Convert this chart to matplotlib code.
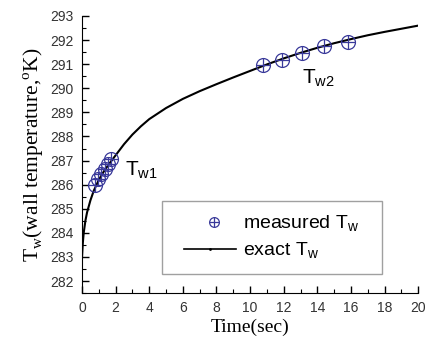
import matplotlib
matplotlib.use("Agg")
import matplotlib.pyplot as plt
from matplotlib.lines import Line2D
from matplotlib.legend_handler import HandlerTuple, HandlerLine2D
from matplotlib.ticker import MultipleLocator

# exact curve
t_exact = [0.0, 0.05, 0.1, 0.2, 0.3, 0.5, 0.7, 1.0, 1.3, 1.6, 2.0, 2.5, 3.0, 3.5,
           4.0, 5.0, 6.0, 7.0, 8.0, 9.0, 10.0, 11.0, 12.0, 13.0, 14.0, 15.0,
           16.0, 17.0, 18.0, 19.0, 20.0]
T_exact = [283.0, 283.6, 284.0, 284.5, 284.85, 285.35, 285.75, 286.2, 286.55, 286.85,
           287.22, 287.68, 288.08, 288.42, 288.72, 289.18, 289.56, 289.88, 290.17,
           290.45, 290.72, 290.99, 291.24, 291.47, 291.68, 291.87, 292.04, 292.2,
           292.34, 292.47, 292.6]

# measured points
t_w1 = [0.75, 0.95, 1.15, 1.35, 1.55, 1.75]
T_w1 = [286.0, 286.25, 286.45, 286.65, 286.85, 287.05]
t_w2 = [10.75, 11.88, 13.07, 14.42, 15.81]
T_w2 = [290.97, 291.17, 291.45, 291.77, 291.93]

xticks = [0, 2, 4, 6, 8, 10, 12, 14, 16, 18, 20]
yticks = [282, 283, 284, 285, 286, 287, 288, 289, 290, 291, 292, 293]

mcol = "#3a3a9a"
sans = "Liberation Sans"
serif = "Liberation Serif"

OFF = 6.5  # left offset of legend handles, points


class ShiftTuple(HandlerTuple):
    def create_artists(self, legend, orig_handle, xdescent, ydescent, width,
                       height, fontsize, trans):
        return super().create_artists(legend, orig_handle, xdescent - OFF,
                                      ydescent, width - OFF, height, fontsize,
                                      trans)


class ShiftLine(HandlerLine2D):
    def create_artists(self, legend, orig_handle, xdescent, ydescent, width,
                       height, fontsize, trans):
        return super().create_artists(legend, orig_handle, xdescent - OFF,
                                      ydescent, width - OFF, height, fontsize,
                                      trans)


fig = plt.figure(figsize=(4.25, 3.4), dpi=100)
ax = fig.add_axes([0.193, 0.138, 0.791, 0.815])

ax.plot(t_exact, T_exact, color="black", lw=1.5, zorder=2)

t_meas = t_w1 + t_w2
T_meas = T_w1 + T_w2
ax.plot(t_meas, T_meas, ls="none", marker="o", ms=10, mfc="none",
        mec=mcol, mew=0.9, zorder=3)
ax.plot(t_meas, T_meas, ls="none", marker="+", ms=10, mec=mcol,
        mew=0.9, zorder=3)

ax.set_xlim(0, 20)
ax.set_ylim(281.5, 293)
ax.set_xticks(xticks)
ax.set_yticks(yticks)
ax.xaxis.set_minor_locator(MultipleLocator(1))
ax.yaxis.set_minor_locator(MultipleLocator(0.5))
ax.tick_params(which="both", direction="in", top=False, right=False)
ax.tick_params(which="major", length=5, width=1, labelsize=10, pad=6)
ax.tick_params(which="minor", length=3, width=0.8)
for lab in ax.get_xticklabels() + ax.get_yticklabels():
    lab.set_fontfamily(sans)
    lab.set_color("#333333")
ax.spines["top"].set_visible(False)
ax.spines["right"].set_visible(False)

ax.set_xlabel("Time(sec)", fontfamily=serif, fontsize=14, labelpad=2)
ax.set_ylabel(r"T$_\mathregular{w}$(wall temperature,$^\mathregular{o}$K)",
              fontfamily=serif, fontsize=15.5, labelpad=3)

ax.text(2.56, 286.4, r"T$_\mathregular{w1}$", fontfamily=sans, fontsize=15,
        va="baseline", ha="left")
ax.text(13.1, 290.22, r"T$_\mathregular{w2}$", fontfamily=sans, fontsize=15,
        va="baseline", ha="left")

lh1 = Line2D([], [], ls="none", marker="o", ms=7, mfc="none", mec=mcol, mew=0.9)
lh2 = Line2D([], [], ls="none", marker="+", ms=7, mec=mcol, mew=0.9)
lline = Line2D([], [], color="black", lw=1.2, marker=".", ms=2)
leg = ax.legend([(lh1, lh2), lline],
                [r"measured T$_\mathregular{w}$", r"exact T$_\mathregular{w}$"],
                handler_map={tuple: ShiftTuple(ndivide=1, pad=0),
                             Line2D: ShiftLine()},
                loc="lower left", bbox_to_anchor=(0.238, 0.069, 0.655, 0.26),
                mode="expand",
                borderaxespad=0, fancybox=False, frameon=True,
                handlelength=3.15, handletextpad=0.36, borderpad=0.65,
                labelspacing=0.35, prop={"family": sans, "size": 14})
leg.get_frame().set_edgecolor("#888888")
leg.get_frame().set_linewidth(1.0)

fig.savefig("out.png", dpi=100)
